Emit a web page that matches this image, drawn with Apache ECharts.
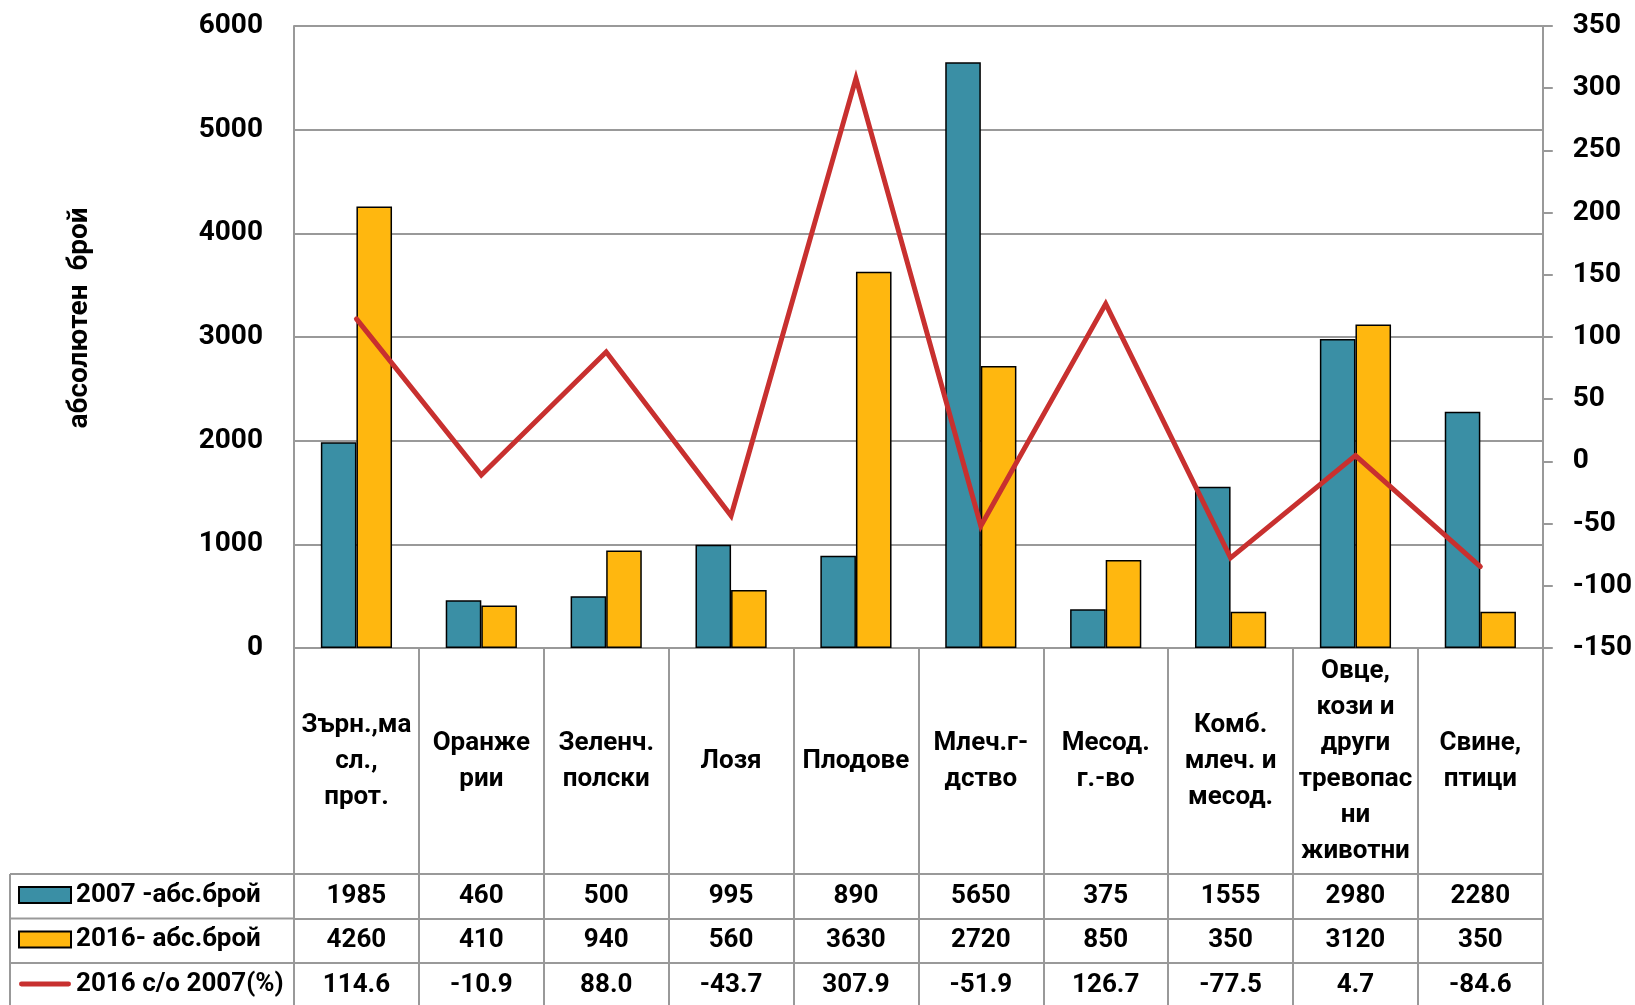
<!DOCTYPE html>
<html>
<head>
<meta charset="utf-8">
<script src="https://cdn.jsdelivr.net/npm/echarts@6/dist/echarts.min.js"></script>
<style>
html,body{margin:0;padding:0;background:#fff;}
#chart{width:1635px;height:1005px;}
</style>
</head>
<body>
<div id="chart"></div>
<script>
// ---- data ----
const categories = [
  'Зърн.,ма\nсл.,\nпрот.',
  'Оранже\nрии',
  'Зеленч.\nполски',
  'Лозя',
  'Плодове',
  'Млеч.г-\nдство',
  'Месод.\nг.-во',
  'Комб.\nмлеч. и\nмесод.',
  'Овце,\nкози и\nдруги\nтревопас\nни\nживотни',
  'Свине,\nптици'
];
const val2007 = [1985, 460, 500, 995, 890, 5650, 375, 1555, 2980, 2280];
const val2016 = [4260, 410, 940, 560, 3630, 2720, 850, 350, 3120, 350];
const pctChange = [114.6, -10.9, 88.0, -43.7, 307.9, -51.9, 126.7, -77.5, 4.7, -84.6];
const seriesNames = ['2007 -абс.брой', '2016- абс.брой', '2016 с/о 2007(%)'];
const leftAxisTitle = 'абсолютен  брой';

// ---- layout ----
const W = 1635, H = 1005;
const gridLeft = 294, gridRight = 92, gridTop = 26, gridBottom = 357;
const plotBottomY = H - gridBottom;        // 648
const headerH = 226;
const rowH = [44.5, 44.5, 45];
const tableLeft = 10;
const gray = '#999999';
const FONT = 'Roboto';
const colTeal = '#3A8FA5', colOrange = '#FFB70F', colRed = '#C8302F';

const offsets = [headerH, headerH + rowH[0], headerH + rowH[0] + rowH[1]];

const chart = echarts.init(document.getElementById('chart'), null, {renderer: 'canvas'});

function rowAxis(idx, values, fmt) {
  return {
    type: 'category',
    gridIndex: 0,
    position: 'bottom',
    offset: offsets[idx],
    data: categories,
    axisLine: {show: true, onZero: false, lineStyle: {color: gray, width: 2}},
    axisTick: {show: true, length: rowH[idx], interval: 0, lineStyle: {color: gray, width: 2}},
    axisLabel: {
      show: true, interval: 0, margin: rowH[idx] / 2, verticalAlign: 'middle',
      fontFamily: FONT, fontWeight: 'bold', fontSize: 26, color: '#000',
      formatter: (v, i) => fmt(values[i])
    },
    splitLine: {show: false}
  };
}

// table lines left of plot (legend column)
const tableLines = [];
const y0 = plotBottomY + headerH;
const rowYs = [y0, y0 + rowH[0], y0 + rowH[0] + rowH[1]];
rowYs.forEach(yy => {
  tableLines.push({type: 'line', shape: {x1: tableLeft, y1: yy, x2: gridLeft, y2: yy},
    style: {stroke: gray, lineWidth: 2}, silent: true});
});
tableLines.push({type: 'line', shape: {x1: tableLeft, y1: rowYs[0], x2: tableLeft, y2: H + 5},
  style: {stroke: gray, lineWidth: 2}, silent: true});

const option = {
  backgroundColor: '#fff',
  animation: false,
  grid: {left: gridLeft, right: gridRight, top: gridTop, bottom: gridBottom, containLabel: false},
  legend: {
    orient: 'vertical',
    left: 18,
    top: y0 + 1,
    itemGap: 4.5,
    itemWidth: 52,
    itemHeight: 16,
    padding: 0,
    symbolKeepAspect: true,
    data: [
      {name: seriesNames[0], icon: 'rect'},
      {name: seriesNames[1], icon: 'rect'},
      {name: seriesNames[2], icon: 'path://M2.5,0 L51.5,0 A2.5,2.5 0 0 1 51.5,5 L2.5,5 A2.5,2.5 0 0 1 2.5,0 Z',
        itemStyle: {color: colRed, borderWidth: 0}}
    ],
    textStyle: {fontFamily: FONT, fontWeight: 'bold', fontSize: 26, color: '#000', lineHeight: 40}
  },
  xAxis: [
    {
      type: 'category',
      gridIndex: 0,
      position: 'bottom',
      data: categories,
      axisLine: {show: true, onZero: false, lineStyle: {color: gray, width: 2}},
      axisTick: {show: true, length: headerH, interval: 0, lineStyle: {color: gray, width: 2}},
      axisLabel: {
        show: true, interval: 0, margin: headerH / 2, verticalAlign: 'middle', align: 'center',
        fontFamily: FONT, fontWeight: 'bold', fontSize: 26, lineHeight: 36, color: '#000'
      },
      splitLine: {show: false}
    },
    rowAxis(0, val2007, v => String(v)),
    rowAxis(1, val2016, v => String(v)),
    rowAxis(2, pctChange, v => v.toFixed(1))
  ],
  yAxis: [
    {
      type: 'value',
      min: 0, max: 6000, interval: 1000,
      position: 'left',
      name: leftAxisTitle,
      nameLocation: 'middle',
      nameRotate: 90,
      nameGap: 200,
      nameTextStyle: {fontFamily: FONT, fontWeight: 'bold', fontSize: 28, color: '#000', padding: [0, 0, 0, 38]},
      axisLine: {show: true, lineStyle: {color: gray, width: 2}},
      axisTick: {show: false},
      axisLabel: {margin: 31, fontFamily: FONT, fontWeight: 'bold', fontSize: 28, color: '#000', formatter: v => String(v)},
      splitLine: {show: true, lineStyle: {color: gray, width: 2}}
    },
    {
      type: 'value',
      min: -150, max: 350, interval: 50,
      position: 'right',
      axisLine: {show: true, lineStyle: {color: gray, width: 2}},
      axisTick: {show: true, inside: false, length: 10, lineStyle: {color: gray, width: 2}},
      axisLabel: {margin: 30, fontFamily: FONT, fontWeight: 'bold', fontSize: 28, color: '#000', formatter: v => String(v)},
      splitLine: {show: false}
    }
  ],
  series: [
    {
      name: seriesNames[0],
      type: 'bar',
      xAxisIndex: 0, yAxisIndex: 0,
      data: val2007,
      barGap: '0%',
      barCategoryGap: '43%',
      itemStyle: {color: colTeal, borderColor: '#000', borderWidth: 1.5}
    },
    {
      name: seriesNames[1],
      type: 'bar',
      xAxisIndex: 0, yAxisIndex: 0,
      data: val2016,
      barGap: '0%',
      barCategoryGap: '43%',
      itemStyle: {color: colOrange, borderColor: '#000', borderWidth: 1.5}
    },
    {
      name: seriesNames[2],
      type: 'line',
      xAxisIndex: 0, yAxisIndex: 1,
      data: pctChange,
      symbol: 'none',
      lineStyle: {color: colRed, width: 5, cap: 'round', join: 'miter'},
      itemStyle: {color: colRed},
      z: 5
    }
  ],
  graphic: tableLines
};

chart.setOption(option);
</script>
</body>
</html>
